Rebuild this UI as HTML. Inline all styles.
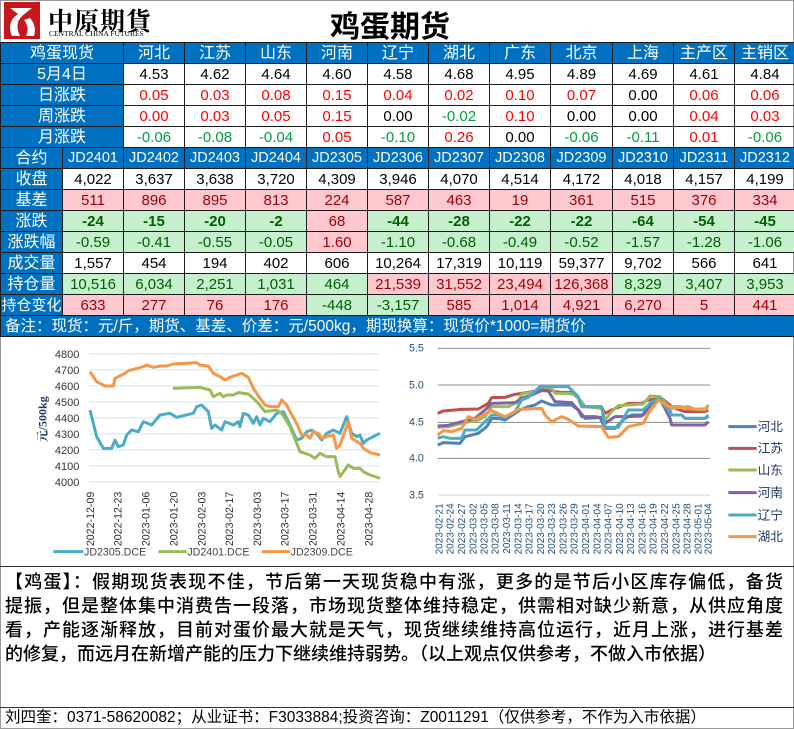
<!DOCTYPE html>
<html><head><meta charset="utf-8"><style>
*{margin:0;padding:0;box-sizing:border-box}
body{width:794px;height:729px;background:#fff;position:relative;overflow:hidden;font-family:"Liberation Sans","Noto Sans CJK SC",sans-serif}
.abs{position:absolute}
table{position:absolute;left:0;top:42px;border-collapse:collapse;table-layout:fixed;width:794px}
td{height:21px;border:1px solid #1a1a1a;text-align:center;font-size:15px;line-height:19px;padding:0;white-space:nowrap;overflow:hidden}
.b{background:#0070c0;color:#fff;font-size:16px}
.j{font-size:14.5px}
.r{color:#f00}.g{color:#00a040}.k{color:#000}
.p{background:#ffc7ce;color:#9c0006}.q{background:#c6efce;color:#006100}
.bold{font-weight:bold}
.ln{white-space:nowrap;text-align:justify;text-align-last:justify;height:24px;overflow:hidden}
</style></head><body>
<div class="abs" style="left:0;top:0;width:794px;height:729px;border:1px solid #999"></div>
<svg class="abs" style="left:4px;top:2px" width="36" height="38"><rect x="0" y="0" width="36" height="37" fill="#c8161d"/><path d="M6 6 H28 L18 14 Q10 22 16 34 H8 Q2 20 14 12 Z" fill="#fff"/><path d="M20 18 Q26 26 22 34 H30 Q33 24 26 16 Z" fill="#fff"/></svg>
<div class="abs" style="left:48px;top:2px;font-size:25px;font-weight:bold;letter-spacing:1px;font-family:'Noto Serif CJK SC','Noto Sans CJK SC',sans-serif">中原期貨</div>
<div class="abs" style="left:49px;top:29px;font-size:7.5px;font-family:'Liberation Serif',serif">CENTRAL CHINA FUTURES</div>
<div class="abs" style="left:330px;top:2px;font-size:30px;font-weight:bold;font-family:'Liberation Sans','Noto Sans CJK SC',sans-serif">鸡蛋期货</div>
<table>
<colgroup><col style="width:62px"><col style="width:61px"><col style="width:61px"><col style="width:61px"><col style="width:61px"><col style="width:61px"><col style="width:61px"><col style="width:61px"><col style="width:61px"><col style="width:62px"><col style="width:61px"><col style="width:61px"><col style="width:61px"></colgroup>
<tr><td class="b" colspan="2">鸡蛋现货</td><td class="b">河北</td><td class="b">江苏</td><td class="b">山东</td><td class="b">河南</td><td class="b">辽宁</td><td class="b">湖北</td><td class="b">广东</td><td class="b">北京</td><td class="b">上海</td><td class="b">主产区</td><td class="b">主销区</td></tr>
<tr><td class="b" colspan="2">5月4日</td><td>4.53</td><td>4.62</td><td>4.64</td><td>4.60</td><td>4.58</td><td>4.68</td><td>4.95</td><td>4.89</td><td>4.69</td><td>4.61</td><td>4.84</td></tr>
<tr><td class="b" colspan="2">日涨跌</td><td class="r">0.05</td><td class="r">0.03</td><td class="r">0.08</td><td class="r">0.15</td><td class="r">0.04</td><td class="r">0.02</td><td class="r">0.10</td><td class="r">0.07</td><td>0.00</td><td class="r">0.06</td><td class="r">0.06</td></tr>
<tr><td class="b" colspan="2">周涨跌</td><td class="r">0.00</td><td class="r">0.03</td><td class="r">0.05</td><td class="r">0.15</td><td>0.00</td><td class="g">-0.02</td><td class="r">0.10</td><td>0.00</td><td>0.00</td><td class="r">0.04</td><td class="r">0.03</td></tr>
<tr><td class="b" colspan="2">月涨跌</td><td class="g">-0.06</td><td class="g">-0.08</td><td class="g">-0.04</td><td class="r">0.05</td><td class="g">-0.10</td><td class="r">0.26</td><td>0.00</td><td class="g">-0.06</td><td class="g">-0.11</td><td class="r">0.01</td><td class="g">-0.06</td></tr>
<tr><td class="b">合约</td><td class="b j">JD2401</td><td class="b j">JD2402</td><td class="b j">JD2403</td><td class="b j">JD2404</td><td class="b j">JD2305</td><td class="b j">JD2306</td><td class="b j">JD2307</td><td class="b j">JD2308</td><td class="b j">JD2309</td><td class="b j">JD2310</td><td class="b j">JD2311</td><td class="b j">JD2312</td></tr>
<tr><td class="b">收盘</td><td>4,022</td><td>3,637</td><td>3,638</td><td>3,720</td><td>4,309</td><td>3,946</td><td>4,070</td><td>4,514</td><td>4,172</td><td>4,018</td><td>4,157</td><td>4,199</td></tr>
<tr><td class="b">基差</td><td class="p">511</td><td class="p">896</td><td class="p">895</td><td class="p">813</td><td class="p">224</td><td class="p">587</td><td class="p">463</td><td class="p">19</td><td class="p">361</td><td class="p">515</td><td class="p">376</td><td class="p">334</td></tr>
<tr><td class="b">涨跌</td><td class="q bold">-24</td><td class="q bold">-15</td><td class="q bold">-20</td><td class="q bold">-2</td><td class="p">68</td><td class="q bold">-44</td><td class="q bold">-28</td><td class="q bold">-22</td><td class="q bold">-22</td><td class="q bold">-64</td><td class="q bold">-54</td><td class="q bold">-45</td></tr>
<tr><td class="b">涨跌幅</td><td class="q">-0.59</td><td class="q">-0.41</td><td class="q">-0.55</td><td class="q">-0.05</td><td class="p">1.60</td><td class="q">-1.10</td><td class="q">-0.68</td><td class="q">-0.49</td><td class="q">-0.52</td><td class="q">-1.57</td><td class="q">-1.28</td><td class="q">-1.06</td></tr>
<tr><td class="b">成交量</td><td>1,557</td><td>454</td><td>194</td><td>402</td><td>606</td><td>10,264</td><td>17,319</td><td>10,119</td><td>59,377</td><td>9,702</td><td>566</td><td>641</td></tr>
<tr><td class="b">持仓量</td><td class="q">10,516</td><td class="q">6,034</td><td class="q">2,251</td><td class="q">1,031</td><td class="q">464</td><td class="p">21,539</td><td class="p">31,552</td><td class="p">23,494</td><td class="p">126,368</td><td class="q">8,329</td><td class="q">3,407</td><td class="q">3,953</td></tr>
<tr><td class="b" style="font-size:15px">持仓变化</td><td class="p">633</td><td class="p">277</td><td class="p">76</td><td class="p">176</td><td class="q">-448</td><td class="q">-3,157</td><td class="p">585</td><td class="p">1,014</td><td class="p">4,921</td><td class="p">6,270</td><td class="p">5</td><td class="p">441</td></tr>
<tr><td class="b" colspan="13" style="text-align:left;padding-left:4px;font-size:15.5px">备注：现货：元/斤，期货、基差、价差：元/500kg，期现换算：现货价*1000=期货价</td></tr>
</table>

<svg class="abs" style="left:0;top:0" width="794" height="729">
<g transform="translate(0,340) scale(0.33333)" font-family="Liberation Sans, sans-serif">
<g stroke="#d6e3f0" stroke-width="3">
<line x1="268" x2="1140" y1="42" y2="42"/><line x1="268" x2="1140" y1="90" y2="90"/><line x1="268" x2="1140" y1="138" y2="138"/><line x1="268" x2="1140" y1="186" y2="186"/><line x1="268" x2="1140" y1="234" y2="234"/><line x1="268" x2="1140" y1="282" y2="282"/><line x1="268" x2="1140" y1="330" y2="330"/><line x1="268" x2="1140" y1="378" y2="378"/><line x1="268" x2="1140" y1="426" y2="426"/>
</g>
<g font-size="33" fill="#333" text-anchor="end">
<text x="238" y="54">4800</text><text x="238" y="102">4700</text><text x="238" y="150">4600</text><text x="238" y="198">4500</text><text x="238" y="246">4400</text><text x="238" y="294">4300</text><text x="238" y="342">4200</text><text x="238" y="390">4100</text><text x="238" y="438">4000</text>
</g>
<text transform="translate(140,238) rotate(-90)" font-size="36" font-weight="bold" fill="#1f3864" text-anchor="middle" font-family="Liberation Serif, Noto Serif CJK SC, serif">元/500kg</text>
<g fill="none" stroke-width="9" stroke-linejoin="round">
<polyline stroke="#4bacc6" points="270,210 290,290 310,325 335,325 345,300 355,320 370,315 380,285 395,270 415,275 430,245 455,255 480,225 510,220 530,232 580,220 590,200 605,195 625,215 635,265 645,255 665,270 675,245 700,255 715,245 720,260 730,220 745,225 760,250 770,230 780,255 790,235 810,245 830,220 850,215 870,255 890,300 905,295 920,275 935,270 950,280 965,300 980,280 1000,270 1020,280 1040,230 1055,280 1070,290 1080,285 1090,310 1100,300 1140,280"/>
<polyline stroke="#9bbb59" points="518,145 600,142 630,150 640,170 660,160 670,170 680,165 700,165 715,158 745,162 760,175 775,190 795,215 830,210 845,220 870,260 890,310 900,335 930,345 945,355 960,340 980,350 1005,350 1015,395 1020,410 1045,375 1060,385 1080,385 1090,395 1110,405 1140,415"/>
<polyline stroke="#f79646" points="270,95 290,125 300,130 315,138 340,138 345,115 375,100 385,92 430,80 440,75 460,82 480,78 500,78 520,72 590,68 600,75 625,78 640,100 660,110 675,120 690,112 710,105 725,100 745,112 760,145 780,175 795,195 810,200 835,200 845,180 860,195 870,215 890,250 905,285 920,285 930,295 940,275 955,280 965,295 980,290 1000,285 1010,325 1020,315 1045,245 1055,295 1080,310 1090,325 1110,338 1140,345"/>
</g>
<g font-size="32" fill="#333" text-anchor="end">
<text transform="translate(282,455) rotate(-90)">2022-12-09</text>
<text transform="translate(365,455) rotate(-90)">2022-12-23</text>
<text transform="translate(449,455) rotate(-90)">2023-01-06</text>
<text transform="translate(532,455) rotate(-90)">2023-01-20</text>
<text transform="translate(616,455) rotate(-90)">2023-02-03</text>
<text transform="translate(699,455) rotate(-90)">2023-02-17</text>
<text transform="translate(783,455) rotate(-90)">2023-03-03</text>
<text transform="translate(866,455) rotate(-90)">2023-03-17</text>
<text transform="translate(950,455) rotate(-90)">2023-03-31</text>
<text transform="translate(1033,455) rotate(-90)">2023-04-14</text>
<text transform="translate(1117,455) rotate(-90)">2023-04-28</text>
</g>
<g stroke-width="9">
<line x1="160" x2="250" y1="635" y2="635" stroke="#4bacc6"/><line x1="475" x2="560" y1="635" y2="635" stroke="#9bbb59"/><line x1="785" x2="870" y1="635" y2="635" stroke="#f79646"/>
</g>
<g font-size="32" fill="#444"><text x="252" y="646">JD2305.DCE</text><text x="562" y="646">JD2401.DCE</text><text x="872" y="646">JD2309.DCE</text></g>
</g>

<g transform="translate(395,340) scale(0.33333)" font-family="Liberation Sans, sans-serif">
<g stroke="#8c8c8c" stroke-width="3">
<line x1="128" x2="945" y1="25" y2="25"/><line x1="128" x2="945" y1="135" y2="135"/><line x1="128" x2="945" y1="247" y2="247"/><line x1="128" x2="945" y1="355" y2="355"/>
</g>
<line x1="128" x2="945" y1="465" y2="465" stroke="#c8d4e6" stroke-width="3"/>
<g font-size="32" fill="#1f4e79">
<text x="42" y="35">5.5</text><text x="42" y="145">5.0</text><text x="42" y="257">4.5</text><text x="42" y="365">4.0</text><text x="42" y="475">3.5</text>
</g>
<g fill="none" stroke-width="9" stroke-linejoin="round">
<polyline stroke="#4f81bd" points="128,315 145,308 195,310 210,290 230,285 250,280 275,260 290,235 310,235 330,240 360,220 375,210 400,200 420,195 440,183 470,195 530,195 550,210 560,230 600,230 615,232 630,265 660,265 690,235 710,225 745,225 770,190 795,178 820,200 830,225 860,225 870,235 930,235 940,230"/>
<polyline stroke="#c0504d" points="128,220 145,213 200,208 250,207 280,190 290,173 330,172 360,163 400,157 440,150 460,148 480,155 500,157 530,157 550,175 560,200 620,202 630,220 650,210 700,190 740,190 760,180 800,175 830,200 840,205 870,215 930,215 940,210"/>
<polyline stroke="#9bbb59" points="128,262 160,260 200,250 250,240 270,230 290,200 340,200 370,185 380,162 420,155 435,140 470,145 480,160 520,160 540,165 560,185 570,200 620,205 630,240 650,215 670,197 700,195 745,192 765,168 795,170 820,200 860,200 870,205 930,210 940,195"/>
<polyline stroke="#8064a2" points="128,258 160,256 200,245 240,235 270,210 290,190 360,188 380,175 410,165 440,152 460,153 480,185 530,188 550,210 570,235 620,232 630,250 660,230 700,230 740,228 770,190 795,176 825,235 830,255 930,255 940,245"/>
<polyline stroke="#4bacc6" points="128,295 145,290 165,295 200,295 210,270 245,270 270,245 290,225 310,225 330,232 360,215 380,180 400,172 435,140 520,140 550,170 560,200 620,200 630,262 670,262 700,210 745,210 770,185 795,175 830,225 860,225 870,235 930,235 940,225"/>
<polyline stroke="#f79646" points="128,285 145,272 170,275 200,265 220,230 240,238 260,228 290,212 330,230 360,215 370,208 440,205 450,225 470,245 500,230 520,238 550,258 620,260 640,292 670,290 700,260 745,250 760,220 790,180 830,205 860,202 880,200 900,208 930,206 940,205"/>
</g>
<g font-size="30" fill="#1f4e79" text-anchor="end">
<text transform="translate(142,490) rotate(-90)">2023-02-21</text>
<text transform="translate(176,490) rotate(-90)">2023-02-24</text>
<text transform="translate(210,490) rotate(-90)">2023-02-27</text>
<text transform="translate(244,490) rotate(-90)">2023-03-02</text>
<text transform="translate(277,490) rotate(-90)">2023-03-05</text>
<text transform="translate(311,490) rotate(-90)">2023-03-08</text>
<text transform="translate(345,490) rotate(-90)">2023-03-11</text>
<text transform="translate(379,490) rotate(-90)">2023-03-14</text>
<text transform="translate(413,490) rotate(-90)">2023-03-17</text>
<text transform="translate(447,490) rotate(-90)">2023-03-20</text>
<text transform="translate(480,490) rotate(-90)">2023-03-23</text>
<text transform="translate(514,490) rotate(-90)">2023-03-26</text>
<text transform="translate(548,490) rotate(-90)">2023-03-29</text>
<text transform="translate(582,490) rotate(-90)">2023-04-01</text>
<text transform="translate(616,490) rotate(-90)">2023-04-04</text>
<text transform="translate(650,490) rotate(-90)">2023-04-07</text>
<text transform="translate(684,490) rotate(-90)">2023-04-10</text>
<text transform="translate(717,490) rotate(-90)">2023-04-13</text>
<text transform="translate(751,490) rotate(-90)">2023-04-16</text>
<text transform="translate(785,490) rotate(-90)">2023-04-19</text>
<text transform="translate(819,490) rotate(-90)">2023-04-22</text>
<text transform="translate(853,490) rotate(-90)">2023-04-25</text>
<text transform="translate(887,490) rotate(-90)">2023-04-28</text>
<text transform="translate(920,490) rotate(-90)">2023-05-01</text>
<text transform="translate(950,490) rotate(-90)">2023-05-04</text>
</g>
<g stroke-width="9">
<line x1="1000" x2="1085" y1="260" y2="260" stroke="#4f81bd"/><line x1="1000" x2="1085" y1="325" y2="325" stroke="#c0504d"/><line x1="1000" x2="1085" y1="390" y2="390" stroke="#9bbb59"/><line x1="1000" x2="1085" y1="458" y2="458" stroke="#8064a2"/><line x1="1000" x2="1085" y1="525" y2="525" stroke="#4bacc6"/><line x1="1000" x2="1085" y1="590" y2="590" stroke="#f79646"/>
</g>
<g font-size="38" fill="#1f3864" font-family="Noto Sans CJK SC, sans-serif">
<text x="1088" y="273">河北</text><text x="1088" y="338">江苏</text><text x="1088" y="403">山东</text><text x="1088" y="471">河南</text><text x="1088" y="538">辽宁</text><text x="1088" y="603">湖北</text>
</g>
</g>
</svg>

<div class="abs" style="left:0;top:566px;width:794px;border-top:1px solid #333"></div>
<div class="abs" style="left:5px;top:570px;width:778px;font-size:18px;line-height:24px;font-weight:500;color:#000">
<div class="ln">【鸡蛋】：假期现货表现不佳，节后第一天现货稳中有涨，更多的是节后小区库存偏低，备货</div>
<div class="ln">提振，但是整体集中消费告一段落，市场现货整体维持稳定，供需相对缺少新意，从供应角度</div>
<div class="ln">看，产能逐渐释放，目前对蛋价最大就是天气，现货继续维持高位运行，近月上涨，进行基差</div>
<div class="ln" style="text-align-last:left">的修复，而远月在新增产能的压力下继续维持弱势。（以上观点仅供参考，不做入市依据）</div>
</div>
<div class="abs" style="left:0;top:707px;width:794px;border-top:1px solid #333"></div>
<div class="abs" style="left:5px;top:709px;font-size:15.5px;line-height:18px">刘四奎：0371-58620082；从业证书：F3033884;投资咨询：Z0011291（仅供参考，不作为入市依据）</div>
</body></html>
